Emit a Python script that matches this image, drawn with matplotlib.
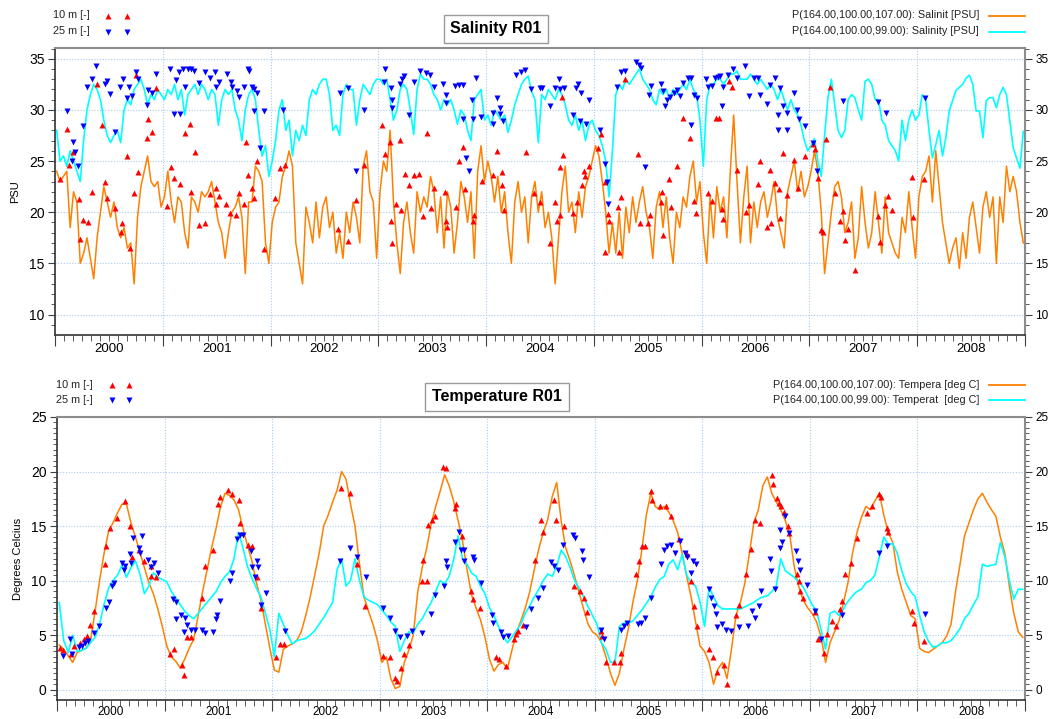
import numpy as np
import matplotlib
matplotlib.use("Agg")
import matplotlib.pyplot as plt
from matplotlib.ticker import MultipleLocator, FixedLocator, FuncFormatter, NullFormatter
from matplotlib.lines import Line2D

plt.rcParams['font.family'] = ['Liberation Sans', 'DejaVu Sans']

# ---------------- data ----------------
years = list(range(2000, 2009))
sal_per_year = 32
tmp_per_year = 24

# modelled salinity, 10 m (orange) - 32 samples per year
sal_10m_model = [
    24, 23, 23.5, 24, 18.5, 22, 21, 15, 16, 17.5, 15.5, 13.5, 17.5, 20, 22.5, 21, 19.5, 21, 18.5, 17.5, 18.5, 16.5, 17, 13, 19.5, 22.5, 24, 25.5, 23, 22.5, 23, 20.5,
    21.5, 24, 21, 19, 21.5, 21, 18, 16.5, 21.5, 21, 20, 22, 21.5, 22, 23, 21, 19, 18, 15.5, 18, 20, 20.5, 21.5, 19.5, 14, 21, 21, 24.5, 24, 23, 17, 15,
    19, 20.5, 21, 23.5, 24.5, 26, 24.5, 17, 15, 13, 20.5, 19, 17, 21, 17.5, 20.5, 21.5, 18.5, 20, 16, 18, 15.5, 20, 18, 21, 19.5, 17, 24.5, 26, 22, 21, 15.5,
    22, 25, 24, 28, 21, 17, 14, 19, 21, 18, 16, 22, 20, 21.5, 20.5, 23.5, 22, 18, 21.5, 16.5, 22, 20.5, 16, 19, 23, 21.5, 19, 22, 15.5, 24, 26.5, 23,
    25, 23.5, 21, 23.5, 20, 22, 18, 15, 21, 23, 20, 21.5, 17, 21.5, 23, 20, 22, 18.5, 20, 17.5, 13, 17.5, 22, 24.5, 20, 21, 18, 22, 19.5, 22.5, 23.5, 25,
    26.5, 25.5, 23, 20, 16, 19, 16, 20, 15.5, 20.5, 18, 21.5, 19, 21, 22.5, 20, 18.5, 15.5, 20.5, 22, 18.5, 21.5, 17.5, 15, 20, 18.5, 21.5, 20.5, 23.5, 25, 21, 23,
    18, 15, 21.5, 17.5, 22.5, 20, 21.5, 17.5, 24, 29.5, 23, 17, 21.5, 24.5, 17, 21, 18.5, 21, 22, 19.5, 21, 23, 19.5, 18, 16.5, 22, 23.5, 25, 22, 24, 21.5, 22.5,
    24, 26, 24, 20, 14, 17, 20, 22.5, 23, 21.5, 18, 19, 21, 15.5, 17.5, 22.5, 19, 16.5, 18, 22, 19, 16, 21.5, 18, 17, 16, 15.5, 19.5, 18, 22, 18.5, 15.5,
    21.5, 23.5, 24, 25.5, 21, 26, 22.5, 19, 17, 15, 16.5, 17.5, 14.5, 18, 15.5, 19.5, 21, 18.5, 16, 20.5, 22, 19.5, 21.5, 15, 21.5, 19, 24.5, 22, 23.5, 22, 19, 17,
]

# modelled salinity, 25 m (cyan) - 32 samples per year
sal_25m_model = [
    28, 25, 25.5, 24.5, 26, 25, 24, 23, 27, 30, 31.5, 32.5, 32, 31, 29, 27.5, 26.8, 27.5, 28, 26.8, 30, 31, 30.5, 32, 32.5, 33, 32, 30.5, 31.5, 31, 32, 31.5,
    31, 32, 31.5, 32.5, 31, 32, 29.5, 31.5, 32, 32.5, 31.5, 32.5, 32, 31, 32, 31.5, 28.5, 31, 32, 31.5, 32, 30, 29, 27, 30, 31.5, 32, 31, 28, 25.5, 26.5, 23.5,
    25, 27, 30, 31, 28, 29, 25.5, 28, 27, 28.5, 27.5, 31, 32, 31.5, 32.5, 33, 33, 31.5, 28, 28.5, 27.5, 31.5, 32.5, 32, 32, 28.5, 31, 32.5, 32, 31.5, 32.5, 33,
    33, 32.5, 33, 31, 29, 30, 32, 32.5, 32, 30, 27.6, 32, 33.5, 33, 33, 32.5, 31.5, 31, 30, 31, 30.5, 31, 30, 28.6, 30, 29.5, 28, 27, 31, 31.5, 32, 29,
    29.5, 28.5, 30, 29.5, 29, 29.5, 27.8, 29, 30.5, 31.5, 32.5, 33, 33.3, 31.8, 31, 26.8, 31.5, 31, 32, 31.5, 31, 32, 31.5, 30.5, 29, 28.5, 29.5, 28, 29, 27, 28.5, 29,
    28, 27.5, 26.5, 25, 21.5, 26, 31.5, 32.5, 32, 33, 32.5, 33, 33.5, 34, 33, 32.5, 32, 31, 30.5, 32, 31.5, 32, 31, 32, 31.5, 32, 32.5, 32, 33, 32, 31.5, 29,
    24.5, 31, 32.5, 32.5, 33, 33, 32.5, 33, 33.5, 33.5, 33.8, 33, 33, 33, 33.5, 33, 32.5, 33, 32.5, 32, 32.5, 32, 31, 32, 31, 30, 31, 30, 29.5, 28.5, 27, 26,
    26.5, 27.2, 25, 23.5, 27.5, 31.2, 33, 30.5, 28, 27.3, 28, 31, 31.5, 31.2, 30, 29, 32.8, 33, 32.5, 31, 31, 29, 28.5, 27, 26.5, 26, 25, 29, 27, 29, 30, 29,
    29.5, 31.5, 31, 28, 25.3, 26.6, 28, 25.5, 27.3, 29.9, 30.9, 31.9, 32.2, 32.5, 33.1, 33.4, 32.5, 29.9, 29.9, 27.3, 30.9, 31.2, 31.2, 30.2, 31.5, 32.2, 31.5, 28.9, 26.3, 25.3, 24.3, 27.9,
]

# observed salinity 10 m (red up-triangles)
sal_10m_obs_t = [
    2000.05, 2000.115, 2000.13, 2000.17, 2000.22, 2000.23, 2000.26, 2000.31, 2000.34, 2000.39, 2000.44, 2000.46, 2000.48, 2000.56, 2000.61, 2000.62, 2000.67, 2000.70, 2000.73, 2000.75, 2000.77, 2000.85, 2000.86, 2000.90, 2000.94,
    2001.04, 2001.08, 2001.10, 2001.16, 2001.21, 2001.25, 2001.26, 2001.30, 2001.34, 2001.39, 2001.44, 2001.49, 2001.49, 2001.52, 2001.59, 2001.62, 2001.68, 2001.71, 2001.75, 2001.77, 2001.79, 2001.83, 2001.85, 2001.87, 2001.94,
    2002.04, 2002.09, 2002.13, 2002.63, 2002.72, 2002.79, 2002.87,
    2003.03, 2003.06, 2003.11, 2003.12, 2003.13, 2003.16, 2003.20, 2003.21, 2003.25, 2003.28, 2003.33, 2003.38, 2003.41, 2003.45, 2003.49, 2003.52, 2003.62, 2003.63, 2003.64, 2003.72, 2003.75, 2003.79, 2003.80, 2003.88, 2003.89, 2003.96,
    2004.06, 2004.10, 2004.15, 2004.15, 2004.17, 2004.37, 2004.44, 2004.50, 2004.59, 2004.64, 2004.66, 2004.69, 2004.69, 2004.70, 2004.71, 2004.81, 2004.84, 2004.89, 2004.91, 2004.92, 2004.95,
    2005.04, 2005.07, 2005.10, 2005.10, 2005.13, 2005.14, 2005.22, 2005.23, 2005.25, 2005.29, 2005.41, 2005.43, 2005.50, 2005.52, 2005.62, 2005.63, 2005.64, 2005.70, 2005.72, 2005.77, 2005.83, 2005.89, 2005.93, 2005.95,
    2006.06, 2006.10, 2006.13, 2006.16, 2006.19, 2006.20, 2006.25, 2006.28, 2006.33, 2006.41, 2006.44, 2006.52, 2006.54, 2006.61, 2006.63, 2006.64, 2006.68, 2006.72, 2006.73, 2006.75, 2006.79, 2006.86, 2006.89, 2006.96,
    2007.03, 2007.05, 2007.08, 2007.11, 2007.13, 2007.15, 2007.19, 2007.24, 2007.28, 2007.31, 2007.33, 2007.36, 2007.42, 2007.64, 2007.65, 2007.70, 2007.73, 2007.77, 2007.95, 2007.96, 2008.06,
]
sal_10m_obs_v = [
    23.2, 28.1, 24.6, 25.9, 21.3, 17.4, 19.2, 19.0, 22.0, 32.5, 28.5, 23.0, 21.4, 20.4, 18.1, 18.9, 25.5, 16.5, 21.9, 33.4, 23.9, 27.3, 29.1, 27.8, 32.1,
    20.6, 24.4, 23.3, 22.8, 27.7, 28.6, 22.0, 25.9, 18.8, 18.9, 21.8, 22.4, 20.8, 21.6, 20.8, 19.9, 19.7, 21.9, 20.8, 26.9, 23.6, 22.4, 21.4, 25.0, 16.4,
    21.4, 24.3, 24.6, 18.4, 17.2, 21.2, 24.6,
    28.5, 25.7, 26.9, 19.1, 17.0, 20.8, 27.1, 20.2, 23.7, 22.7, 23.6, 23.7, 19.6, 27.7, 20.4, 22.4, 22.0, 19.1, 18.6, 20.5, 25.0, 26.4, 22.3, 19.1, 19.7, 23.1,
    23.6, 26.0, 23.9, 22.7, 20.2, 25.9, 21.9, 21.0, 17.0, 21.0, 19.1, 19.7, 24.4, 31.3, 25.6, 19.9, 21.0, 22.7, 24.0, 23.5, 24.5,
    26.3, 27.6, 23.0, 16.1, 19.8, 19.1, 20.5, 16.1, 21.5, 33.0, 25.7, 18.9, 18.9, 19.7, 21.0, 22.0, 17.8, 23.2, 20.5, 24.5, 29.2, 27.3, 21.1, 19.9,
    21.9, 21.1, 29.2, 29.2, 20.3, 19.3, 32.8, 32.2, 24.1, 20.0, 20.7, 22.8, 25.0, 18.6, 24.1, 18.9, 22.9, 22.3, 19.4, 25.8, 21.7, 25.1, 22.4, 25.5,
    26.7, 26.2, 23.3, 18.3, 18.1, 27.2, 32.2, 21.9, 19.1, 20.1, 17.3, 18.4, 14.4, 19.6, 17.1, 20.7, 21.6, 20.2, 23.4, 19.5, 23.2,
]

# observed salinity 25 m (blue down-triangles)
sal_25m_obs_t = [
    2000.115, 2000.16, 2000.17, 2000.19, 2000.21, 2000.26, 2000.295, 2000.34, 2000.38, 2000.46, 2000.48, 2000.51, 2000.56, 2000.60, 2000.63, 2000.67, 2000.69, 2000.71, 2000.75, 2000.77, 2000.85, 2000.86, 2000.90, 2000.94,
    2001.07, 2001.10, 2001.12, 2001.15, 2001.16, 2001.19, 2001.21, 2001.23, 2001.26, 2001.29, 2001.34, 2001.39, 2001.44, 2001.48, 2001.49, 2001.52, 2001.60, 2001.63, 2001.64, 2001.69, 2001.71, 2001.75, 2001.79, 2001.80, 2001.83, 2001.85, 2001.85, 2001.87, 2001.90, 2001.94,
    2002.12, 2002.64, 2002.72, 2002.79, 2002.87,
    2003.05, 2003.06, 2003.12, 2003.13, 2003.13, 2003.20, 2003.22, 2003.24, 2003.28, 2003.33, 2003.39, 2003.44, 2003.48, 2003.52, 2003.60, 2003.63, 2003.63, 2003.71, 2003.75, 2003.79, 2003.79, 2003.81, 2003.84, 2003.87, 2003.88, 2003.91, 2003.95,
    2004.06, 2004.06, 2004.10, 2004.13, 2004.13, 2004.16, 2004.28, 2004.32, 2004.36, 2004.42, 2004.50, 2004.52, 2004.59, 2004.64, 2004.68, 2004.69, 2004.72, 2004.81, 2004.83, 2004.85, 2004.87, 2004.88, 2004.93, 2004.95,
    2005.06, 2005.10, 2005.12, 2005.13, 2005.21, 2005.25, 2005.29, 2005.39, 2005.42, 2005.44, 2005.47, 2005.51, 2005.53, 2005.62, 2005.64, 2005.66, 2005.68, 2005.71, 2005.74, 2005.77, 2005.80, 2005.83, 2005.87, 2005.90, 2005.90, 2005.93, 2005.96,
    2006.04, 2006.06, 2006.10, 2006.12, 2006.15, 2006.17, 2006.19, 2006.20, 2006.24, 2006.29, 2006.33, 2006.40, 2006.44, 2006.49, 2006.52, 2006.54, 2006.61, 2006.63, 2006.68, 2006.71, 2006.71, 2006.73, 2006.75, 2006.79, 2006.79, 2006.86, 2006.88, 2006.90, 2006.96,
    2007.03, 2007.07, 2007.31, 2007.64, 2007.71, 2008.07,
]
sal_25m_obs_v = [
    29.9, 25.0, 26.9, 25.9, 24.5, 28.4, 32.2, 33.0, 34.3, 32.5, 32.8, 31.6, 27.8, 32.2, 33.0, 31.2, 32.2, 31.4, 33.7, 33.0, 30.5, 31.9, 31.7, 33.5,
    34.0, 29.6, 32.9, 33.7, 29.6, 34.0, 32.2, 34.0, 34.0, 33.8, 32.6, 33.7, 33.1, 33.7, 32.2, 32.7, 33.5, 32.7, 32.2, 31.8, 31.3, 32.2, 34.0, 33.8, 32.2, 32.0, 29.9, 31.7, 26.3, 29.9,
    30.0, 31.7, 32.1, 24.0, 30.0,
    32.7, 34.0, 32.1, 31.0, 30.2, 32.5, 33.0, 33.3, 29.5, 32.7, 33.8, 33.6, 33.4, 32.2, 32.5, 31.5, 30.7, 32.3, 32.4, 32.4, 29.1, 25.3, 24.0, 31.0, 29.1, 33.1, 29.3,
    29.7, 28.6, 31.2, 30.2, 29.6, 28.9, 33.4, 33.7, 33.9, 32.0, 32.1, 32.1, 30.4, 32.1, 33.0, 32.0, 32.1, 29.5, 32.1, 32.5, 28.9, 31.7, 28.6, 31.0,
    28.0, 24.7, 23.0, 20.8, 32.2, 33.7, 33.8, 34.7, 34.4, 34.1, 24.4, 31.5, 32.3, 32.5, 31.8, 30.4, 31.0, 31.3, 31.7, 31.9, 31.4, 32.6, 33.1, 33.1, 28.5, 31.5, 31.2,
    33.0, 32.2, 32.3, 33.1, 33.2, 33.3, 30.4, 32.2, 33.4, 34.0, 33.1, 34.3, 31.4, 33.1, 33.1, 31.5, 30.6, 32.4, 33.1, 29.5, 28.0, 32.1, 30.4, 28.0, 29.7, 31.7, 30.0, 29.1, 28.4,
    26.8, 24.0, 30.9, 30.8, 29.7, 31.2,
]

# modelled temperature 10 m (orange) - 24 samples per year
tmp_10m_model = [
    4.1, 3.7, 3.1, 2.5, 3.4, 3.6, 3.8, 4.5, 7.2, 10.0, 12.5, 14.5, 15.3, 16.2, 17.0, 17.0, 15.3, 14.0, 12.6, 11.2, 9.8, 8.8, 7.4, 5.8,
    4.0, 3.0, 2.6, 2.0, 2.8, 3.8, 4.6, 6.8, 9.0, 11.0, 13.0, 14.8, 16.8, 18.0, 17.8, 17.4, 16.5, 14.8, 13.2, 11.8, 9.8, 8.2, 6.0, 3.8,
    1.8, 1.6, 3.7, 4.0, 4.2, 4.5, 5.3, 6.8, 8.5, 10.5, 12.5, 15.0, 16.0, 17.2, 18.3, 20.0, 19.3, 17.0, 15.0, 11.5, 8.5, 7.2, 6.0, 4.5,
    2.5, 3.0, 1.0, 0.1, 0.3, 2.5, 3.6, 5.0, 9.0, 11.2, 13.0, 15.2, 16.8, 18.2, 19.7, 18.7, 17.3, 15.5, 13.6, 11.0, 8.7, 7.5, 6.4, 4.8,
    2.8, 1.7, 2.3, 2.5, 1.9, 3.6, 5.2, 6.3, 7.5, 9.0, 11.0, 12.9, 14.4, 15.6, 17.7, 19.0, 15.5, 13.0, 11.8, 10.4, 8.9, 7.4, 6.0, 5.3,
    5.0, 4.3, 3.0, 1.5, 0.4, 1.5, 3.7, 5.6, 8.0, 10.0, 12.8, 16.0, 18.0, 16.8, 16.5, 16.8, 16.3, 15.5, 14.4, 12.5, 10.4, 8.5, 6.2, 4.0,
    3.5, 2.5, 0.5, 1.9, 2.5, 1.0, 3.7, 6.8, 8.0, 9.8, 12.5, 15.3, 16.5, 18.7, 19.5, 18.0, 17.2, 16.5, 15.5, 14.2, 11.3, 9.5, 8.2, 7.5,
    7.0, 6.2, 4.8, 2.5, 4.3, 5.3, 6.3, 8.0, 9.8, 12.5, 14.4, 15.8, 16.8, 16.5, 17.3, 18.0, 16.0, 14.4, 13.5, 10.8, 9.2, 8.0, 6.8, 6.5,
    3.8, 3.5, 3.4, 3.7, 4.0, 4.3, 4.9, 6.0, 9.0, 11.5, 14.1, 15.3, 16.5, 17.5, 18.0, 17.2, 16.5, 15.9, 14.0, 12.5, 9.5, 7.0, 5.3, 4.8,
]

# modelled temperature 25 m (cyan) - 24 samples per year
tmp_25m_model = [
    8.0, 4.5, 3.4, 5.0, 3.5, 3.6, 3.8, 4.3, 4.8, 6.0, 7.8, 9.3, 10.0, 10.5, 11.4, 10.3, 11.2, 11.8, 10.6, 8.8, 9.5, 10.7, 10.3, 10.1,
    9.9, 9.0, 8.4, 7.8, 7.2, 6.8, 6.5, 7.0, 7.5, 8.0, 8.5, 9.0, 9.8, 10.4, 10.8, 12.0, 14.4, 13.0, 11.3, 10.2, 9.3, 8.5, 7.0, 5.5,
    3.0, 7.0, 6.0, 5.0, 4.2, 4.5, 4.6, 4.7, 5.0, 5.4, 6.0, 6.6, 7.3, 8.0, 11.0, 12.0, 9.5, 10.0, 12.0, 10.0, 8.5, 8.2, 8.0, 7.8,
    7.3, 6.8, 6.2, 5.8, 3.5, 4.5, 5.3, 5.2, 6.0, 6.5, 7.3, 8.0, 9.0, 10.0, 9.7, 10.4, 11.9, 14.1, 12.0, 11.5, 10.7, 10.4, 9.5, 8.8,
    7.5, 6.8, 5.8, 5.0, 4.3, 4.8, 5.4, 6.0, 7.0, 7.7, 8.5, 9.2, 10.0, 10.6, 10.4, 11.3, 12.8, 12.2, 11.2, 10.0, 9.3, 8.5, 7.6, 6.8,
    6.0, 4.3, 3.7, 2.5, 2.5, 5.8, 6.1, 6.1, 6.3, 6.8, 7.3, 7.9, 8.5, 9.4, 10.1, 10.4, 11.5, 11.9, 11.0, 12.4, 10.5, 9.8, 9.5, 8.0,
    5.8, 9.4, 8.5, 7.7, 7.4, 7.4, 7.4, 7.4, 7.4, 7.6, 7.8, 8.0, 8.3, 8.5, 8.6, 9.0, 9.5, 12.0, 10.9, 10.6, 10.3, 9.9, 9.4, 8.6,
    7.8, 7.2, 5.5, 3.7, 7.0, 7.2, 6.8, 7.4, 8.1, 8.6, 9.0, 9.2, 9.8, 10.0, 10.5, 12.2, 14.0, 13.3, 13.4, 12.5, 10.9, 9.7, 9.0, 8.5,
    6.8, 5.3, 4.4, 3.9, 4.0, 4.3, 4.3, 4.5, 5.0, 5.6, 6.5, 7.0, 7.8, 8.5, 11.5, 11.3, 11.4, 11.5, 13.5, 12.2, 10.0, 8.3, 9.2, 9.2,
]

# observed temperature 10 m (red up-triangles)
tmp_10m_obs_t = [
    2000.03, 2000.06, 2000.13, 2000.16, 2000.21, 2000.25, 2000.28, 2000.31, 2000.34, 2000.45, 2000.46, 2000.49, 2000.56, 2000.63, 2000.68, 2000.70, 2000.76, 2000.81, 2000.87, 2000.87, 2000.92,
    2001.05, 2001.09, 2001.16, 2001.18, 2001.21, 2001.25, 2001.35, 2001.38, 2001.45, 2001.50, 2001.52, 2001.59, 2001.63, 2001.69, 2001.70, 2001.78, 2001.81, 2001.86, 2001.90,
    2002.04, 2002.07, 2002.11, 2002.64, 2002.72, 2002.79, 2002.86,
    2003.03, 2003.10, 2003.14, 2003.16, 2003.20, 2003.23, 2003.27, 2003.39, 2003.40, 2003.44, 2003.45, 2003.49, 2003.51, 2003.59, 2003.62, 2003.70, 2003.71, 2003.77, 2003.85, 2003.87, 2003.93,
    2004.08, 2004.11, 2004.17, 2004.25, 2004.27, 2004.29, 2004.33, 2004.44, 2004.50, 2004.52, 2004.62, 2004.64, 2004.71, 2004.81, 2004.86, 2004.90, 2004.93,
    2005.06, 2005.07, 2005.10, 2005.18, 2005.23, 2005.24, 2005.38, 2005.41, 2005.44, 2005.47, 2005.52, 2005.53, 2005.61, 2005.66, 2005.71, 2005.78, 2005.86, 2005.89, 2005.92, 2005.95,
    2006.06, 2006.10, 2006.14, 2006.20, 2006.23, 2006.31, 2006.34, 2006.41, 2006.45, 2006.49, 2006.54, 2006.65, 2006.66, 2006.69, 2006.71, 2006.73, 2006.76, 2006.80, 2006.81, 2006.88, 2006.90, 2006.91, 2006.94,
    2007.05, 2007.08, 2007.13, 2007.16, 2007.21, 2007.24, 2007.28, 2007.30, 2007.33, 2007.38, 2007.44, 2007.53, 2007.58, 2007.64, 2007.66, 2007.72, 2007.73, 2007.95, 2007.97, 2008.06,
]
tmp_10m_obs_v = [
    3.8, 3.6, 3.3, 4.0, 4.3, 4.6, 4.9, 5.9, 7.2, 11.5, 13.2, 14.8, 15.7, 17.3, 15.0, 12.2, 12.8, 11.8, 11.3, 10.4, 10.3,
    3.3, 3.7, 2.3, 1.3, 4.8, 4.8, 8.4, 11.3, 12.8, 17.0, 17.7, 18.3, 17.9, 17.4, 15.3, 13.3, 13.2, 10.3, 7.5,
    3.0, 4.2, 4.2, 18.5, 18.0, 11.5, 7.7,
    3.1, 3.0, 1.1, 0.8, 2.0, 3.3, 4.1, 10.0, 11.9, 10.0, 15.1, 15.6, 15.9, 20.4, 20.3, 16.7, 17.0, 14.1, 9.0, 8.3, 7.5,
    3.0, 2.8, 2.2, 4.6, 5.1, 5.4, 5.9, 11.9, 15.6, 14.5, 17.4, 15.6, 15.0, 9.5, 9.0, 8.4, 7.1,
    5.4, 4.9, 2.5, 2.5, 2.5, 3.4, 10.6, 11.8, 13.2, 13.2, 18.2, 17.4, 16.8, 16.8, 15.9, 13.8, 12.4, 10.0, 7.7, 5.8,
    3.7, 3.0, 1.6, 2.3, 0.5, 6.8, 7.8, 10.6, 12.9, 15.6, 15.3, 19.7, 18.9, 17.6, 17.1, 16.8, 16.3, 15.0, 14.4, 10.6, 10.0, 9.0, 8.4,
    7.1, 4.6, 3.4, 5.1, 6.3, 5.8, 7.4, 8.1, 10.6, 11.6, 13.9, 16.2, 16.8, 17.9, 17.7, 14.8, 14.5, 7.2, 6.1, 4.5,
]

# observed temperature 25 m (blue down-triangles)
tmp_25m_obs_t = [
    2000.06, 2000.12, 2000.14, 2000.20, 2000.23, 2000.26, 2000.29, 2000.34, 2000.39, 2000.46, 2000.48, 2000.51, 2000.53, 2000.60, 2000.62, 2000.63, 2000.68, 2000.69, 2000.71, 2000.76, 2000.77, 2000.79, 2000.85, 2000.87, 2000.90, 2000.94,
    2001.08, 2001.11, 2001.11, 2001.15, 2001.18, 2001.19, 2001.21, 2001.25, 2001.28, 2001.35, 2001.38, 2001.45, 2001.48, 2001.49, 2001.52, 2001.61, 2001.63, 2001.67, 2001.70, 2001.73, 2001.80, 2001.81, 2001.84, 2001.86, 2001.87, 2001.90, 2001.94,
    2002.12, 2002.63, 2002.72, 2002.79, 2002.87,
    2003.03, 2003.10, 2003.14, 2003.19, 2003.25, 2003.30, 2003.39, 2003.48, 2003.51, 2003.60, 2003.62, 2003.63, 2003.70, 2003.74, 2003.76, 2003.78, 2003.78, 2003.87, 2003.88, 2003.94,
    2004.04, 2004.05, 2004.13, 2004.15, 2004.19, 2004.36, 2004.41, 2004.47, 2004.52, 2004.59, 2004.62, 2004.66, 2004.70, 2004.80, 2004.82, 2004.88, 2004.89, 2004.95,
    2005.06, 2005.09, 2005.24, 2005.27, 2005.30, 2005.40, 2005.43, 2005.47, 2005.52, 2005.62, 2005.64, 2005.67, 2005.71, 2005.75, 2005.79, 2005.84, 2005.86, 2005.89, 2005.91, 2005.94,
    2006.06, 2006.08, 2006.11, 2006.13, 2006.14, 2006.18, 2006.22, 2006.27, 2006.34, 2006.42, 2006.46, 2006.49, 2006.53, 2006.55, 2006.63, 2006.64, 2006.68, 2006.72, 2006.72, 2006.74, 2006.77, 2006.81, 2006.87, 2006.89, 2006.91, 2006.97,
    2007.05, 2007.10, 2007.30, 2007.64, 2007.72, 2008.07,
]
tmp_25m_obs_v = [
    3.1, 4.6, 3.3, 3.9, 4.0, 4.3, 4.5, 5.2, 5.8, 7.5, 8.0, 9.5, 9.8, 11.6, 11.0, 11.3, 12.4, 11.6, 13.9, 13.0, 12.5, 14.1, 11.9, 11.2, 11.6, 10.7,
    8.3, 8.0, 6.5, 6.8, 5.3, 6.6, 5.9, 5.5, 5.5, 5.5, 5.2, 5.3, 6.5, 6.8, 8.1, 10.0, 10.7, 13.8, 14.2, 14.2, 12.7, 11.2, 10.3, 11.8, 11.2, 7.8, 8.9,
    5.4, 11.8, 13.0, 12.2, 10.3,
    7.5, 6.6, 5.4, 4.8, 4.9, 5.4, 5.2, 6.9, 8.7, 9.5, 11.8, 11.2, 13.5, 14.5, 12.8, 12.8, 11.8, 12.2, 11.9, 9.8,
    6.8, 6.1, 5.3, 4.8, 4.9, 5.7, 7.4, 8.4, 9.3, 11.7, 11.3, 11.0, 13.3, 14.2, 13.9, 12.7, 11.9, 10.3,
    5.5, 4.6, 5.5, 5.8, 6.1, 6.0, 6.1, 6.6, 8.4, 11.5, 12.8, 13.2, 13.3, 12.5, 13.6, 12.5, 12.2, 10.7, 11.8, 11.5,
    9.2, 8.4, 7.7, 6.9, 5.7, 6.0, 5.5, 5.4, 5.7, 5.8, 7.2, 6.6, 7.7, 9.0, 12.0, 10.9, 9.2, 14.6, 13.0, 13.5, 15.9, 14.4, 12.7, 11.8, 11.0, 9.6,
    7.2, 4.6, 6.8, 12.5, 13.2, 6.9,
]

sal_labels = ["P(164.00,100.00,107.00): Salinit [PSU]", "P(164.00,100.00,99.00): Salinity [PSU]"]
tmp_labels = ["P(164.00,100.00,107.00): Tempera [deg C]", "P(164.00,100.00,99.00): Temperat  [deg C]"]
obs_labels = ["10 m [-]", "25 m [-]"]

# ---------------- styling ----------------
ORANGE = '#FF8000'
CYAN = '#00FFFF'
RED = '#FF0000'
BLUE = '#0000FF'
GRID = '#A8CBEF'
MS = 5.0

W, H = 1051, 719
fig = plt.figure(figsize=(W / 100, H / 100), dpi=100)
fig.patch.set_facecolor('white')

ax1 = fig.add_axes([55 / W, 1 - 334.5 / H, 970 / W, 286.5 / H])
ax2 = fig.add_axes([57 / W, 1 - 700 / H, 968 / W, 283 / H])


def year_label(x, pos):
    frac = x - np.floor(x)
    if abs(frac - 0.5) < 1e-6:
        return str(int(np.floor(x)))
    return ''


def style(ax, ylim, minor_step, xlabsize, xpad):
    ax.set_xlim(2000, 2009)
    ax.set_ylim(*ylim)
    ax.xaxis.set_major_locator(FixedLocator(list(range(2000, 2010))))
    ax.xaxis.set_major_formatter(NullFormatter())
    months = [y + m / 12 for y in years for m in range(1, 12)]
    ax.xaxis.set_minor_locator(FixedLocator(months))
    ax.xaxis.set_minor_formatter(FuncFormatter(year_label))
    ax.tick_params(axis='x', which='major', direction='out', length=8, width=0.8, color='#404040')
    ax.tick_params(axis='x', which='minor', direction='out', length=4, width=0.6, color='#404040',
                   labelsize=xlabsize, pad=xpad)
    ax.yaxis.set_major_locator(MultipleLocator(5))
    ax.yaxis.set_minor_locator(MultipleLocator(minor_step))
    ax.tick_params(axis='y', which='both', direction='out', left=True, right=True,
                   labelleft=True, labelright=True, color='#404040')
    ax.tick_params(axis='y', which='major', length=5, width=0.8, labelsize=10, pad=2.5)
    ax.tick_params(axis='y', which='minor', length=3, width=0.6)
    # right-hand labels slightly smaller so they stay inside the canvas
    for t in ax.yaxis.get_major_ticks():
        t.label2.set_fontsize(8.5)
    ax.grid(True, which='major', color=GRID, linestyle=(0, (1, 1.5)), linewidth=0.8)
    ax.set_axisbelow(True)
    for s in ['left', 'bottom']:
        ax.spines[s].set_color('#333333')
        ax.spines[s].set_linewidth(1.2)
    for s in ['top', 'right']:
        ax.spines[s].set_color('#8C8C8C')
        ax.spines[s].set_linewidth(1.5)


sal_x = 2000 + (np.arange(len(sal_10m_model)) + 0.5) / sal_per_year
tmp_x = 2000 + (np.arange(len(tmp_10m_model)) + 0.5) / tmp_per_year

# Salinity panel
ax1.plot(sal_x, sal_10m_model, color=ORANGE, lw=1.1, zorder=2)
ax1.plot(sal_x, sal_25m_model, color=CYAN, lw=1.2, zorder=2)
ax1.plot(sal_10m_obs_t, sal_10m_obs_v, linestyle='none', marker='^', color=RED, ms=MS, mec='none', zorder=3)
ax1.plot(sal_25m_obs_t, sal_25m_obs_v, linestyle='none', marker='v', color=BLUE, ms=MS, mec='none', zorder=3)
style(ax1, (8.05, 36.05), 1, 9.5, 2)
ax1.set_ylabel('PSU', fontsize=8, labelpad=6)

# Temperature panel
ax2.plot(tmp_x, tmp_10m_model, color=ORANGE, lw=1.1, zorder=2)
ax2.plot(tmp_x, tmp_25m_model, color=CYAN, lw=1.2, zorder=2)
ax2.plot(tmp_10m_obs_t, tmp_10m_obs_v, linestyle='none', marker='^', color=RED, ms=MS, mec='none', zorder=3)
ax2.plot(tmp_25m_obs_t, tmp_25m_obs_v, linestyle='none', marker='v', color=BLUE, ms=MS, mec='none', zorder=3)
style(ax2, (-0.95, 25.0), 0.5, 8.5, 0.5)
ax2.set_ylabel('Degrees Celcius', fontsize=8, labelpad=6)

# ---------------- legends & titles (figure decorations) ----------------
def fx(px):
    return px / W


def fy(py):
    return 1 - py / H


def obs_legend(x_text, x_m1, x_m2, y1, y2):
    for lab, yy, mk, col in [(obs_labels[0], y1, '^', RED), (obs_labels[1], y2, 'v', BLUE)]:
        fig.text(fx(x_text), fy(yy), lab, ha='left', va='center', fontsize=7.8, color='#222222')
        fig.add_artist(Line2D([fx(x_m1), fx(x_m2)], [fy(yy), fy(yy)], linestyle='none', marker=mk,
                              color=col, ms=MS, mec='none', transform=fig.transFigure))


def model_legend(labels, x_right, x_l1, x_l2, y1, y2):
    for lab, yy, col in [(labels[0], y1, ORANGE), (labels[1], y2, CYAN)]:
        fig.text(fx(x_right), fy(yy), lab, ha='right', va='center', fontsize=7.8, color='#222222')
        fig.add_artist(Line2D([fx(x_l1), fx(x_l2)], [fy(yy), fy(yy)], color=col, lw=1.3,
                              transform=fig.transFigure))


obs_legend(53, 108, 127, 15.5, 31.5)
model_legend(sal_labels, 979, 989, 1025, 15.5, 31.5)
obs_legend(56, 112, 129, 385, 400)
model_legend(tmp_labels, 979, 989, 1025, 385, 400)

box = dict(boxstyle='square,pad=0.42', fc='white', ec='#9A9A9A', lw=1.0)
fig.text(fx(496), fy(29), 'Salinity R01', ha='center', va='center', fontsize=11.5,
         fontweight='bold', bbox=box)
fig.text(fx(497), fy(397), 'Temperature R01', ha='center', va='center', fontsize=11.5,
         fontweight='bold', bbox=box)

fig.savefig('out.png', dpi=100, facecolor='white')
